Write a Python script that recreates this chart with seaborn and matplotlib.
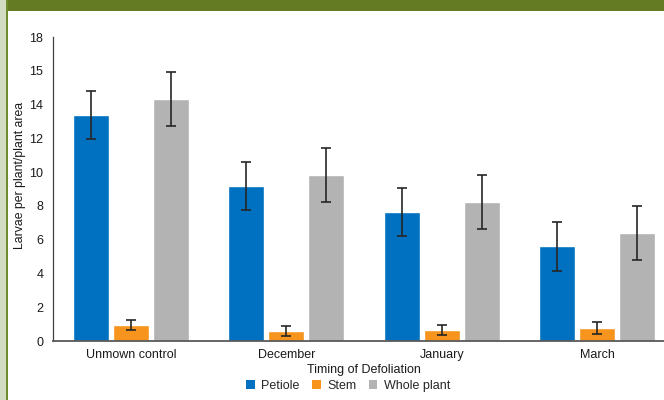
import numpy as np
import pandas as pd
import matplotlib
matplotlib.use("Agg")
import matplotlib.pyplot as plt
from matplotlib.patches import Rectangle, Patch
import seaborn as sns

# Larvae counts by timing of defoliation and plant part
categories = ["Unmown control", "December", "January", "March"]
parts = ["Petiole", "Stem", "Whole plant"]
petiole = [13.38, 9.18, 7.64, 5.62]
stem = [0.97, 0.59, 0.65, 0.77]
whole_plant = [14.33, 9.85, 8.23, 6.39]
petiole_err = [1.44, 1.44, 1.44, 1.45]
stem_err = [0.29, 0.32, 0.32, 0.33]
whole_plant_err = [1.58, 1.60, 1.59, 1.60]
y_ticks = [0, 2, 4, 6, 8, 10, 12, 14, 16, 18]
y_tick_labels = ["0", "2", "4", "6", "8", "10", "12", "14", "15", "18"]

colors = ["#0070C0", "#F7941D", "#B3B3B3"]

df = pd.DataFrame({
    "Timing": categories * 3,
    "Part": [p for p in parts for _ in categories],
    "Larvae": petiole + stem + whole_plant,
})
errors = [petiole_err, stem_err, whole_plant_err]

sns.set_theme(style="white")
plt.rcParams["font.family"] = ["Liberation Sans", "DejaVu Sans"]

fig = plt.figure(figsize=(6.64, 4.0), dpi=100)
ax = fig.add_axes([53 / 664, 59 / 400, 622 / 664, 304 / 400])

sns.barplot(data=df, x="Timing", y="Larvae", hue="Part", order=categories,
            hue_order=parts, palette=colors, errorbar=None, width=0.77,
            gap=0.1, saturation=1, legend=False, ax=ax)

for container, err in zip(ax.containers, errors):
    xs = [b.get_x() + b.get_width() / 2 for b in container]
    ys = [b.get_height() for b in container]
    ax.errorbar(xs, ys, yerr=err, fmt="none", ecolor="#262626",
                elinewidth=1.2, capsize=3.6, capthick=1.2, zorder=5)

ax.set_ylim(0, 18)
ax.set_xlim(-0.5, 3.5)
ax.set_yticks(y_ticks)
ax.set_yticklabels(y_tick_labels)
ax.tick_params(axis="both", length=0, labelsize=9, colors="#1a1a1a")
ax.tick_params(axis="y", pad=7)
ax.tick_params(axis="x", pad=6)
ax.set_xlabel("Timing of Defoliation", fontsize=9, color="#1a1a1a", labelpad=2)
ax.set_ylabel("Larvae per plant/plant area", fontsize=8.8, color="#1a1a1a")
ax.yaxis.set_label_coords(-0.043, 0.546)

for s in ["top", "right"]:
    ax.spines[s].set_visible(False)
ax.spines["left"].set_color("#404040")
ax.spines["left"].set_linewidth(0.9)
ax.spines["bottom"].set_color("#595959")
ax.spines["bottom"].set_linewidth(1.3)

handles = [Patch(facecolor=c, edgecolor="none") for c in colors]
fig.legend(handles, parts, loc="center", bbox_to_anchor=(348 / 664, 1 - 386 / 400),
           ncol=3, frameon=False, fontsize=9, handlelength=0.7, handleheight=0.7,
           handletextpad=0.5, columnspacing=1.0)

# page frame: olive band along the top, pale strip with rule on the left
fig.patches.append(Rectangle((0, 1 - 11 / 400), 1, 11 / 400, transform=fig.transFigure,
                             facecolor="#657B23", edgecolor="none", zorder=0))
fig.patches.append(Rectangle((0, 0), 6 / 664, 1, transform=fig.transFigure,
                             facecolor="#D2DCC2", edgecolor="none", zorder=0))
fig.patches.append(Rectangle((6 / 664, 0), 2 / 664, 1, transform=fig.transFigure,
                             facecolor="#6E8C2E", edgecolor="none", zorder=0))

fig.savefig("out.png", dpi=100, facecolor="white")
